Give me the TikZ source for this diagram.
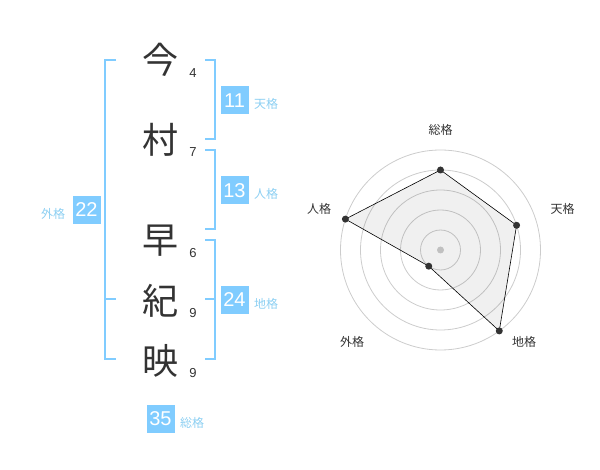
\documentclass[tikz,border=0pt]{standalone}
\usepackage{fontspec}
\setmainfont{Liberation Sans}
\newfontfamily\jp{Noto Sans CJK JP}
\usetikzlibrary{positioning, calc}
\definecolor{kakublue}{HTML}{80CCFF}
\definecolor{kakutext}{HTML}{8CCFF2}
\definecolor{ink}{HTML}{333333}
\definecolor{ring}{HTML}{CCCCCC}

\begin{document}
\begin{tikzpicture}[x=1pt, y=-1pt,
	kanji/.style={font=\jp\fontsize{36}{36}\selectfont, text=ink, inner sep=0pt},
	kaku/.style={font=\fontsize{13}{13}\selectfont, text=ink, inner sep=0pt},
	kbox/.style={fill=kakublue, text=white, font=\fontsize{20}{20}\selectfont, minimum size=28pt, inner sep=0pt},
	klabel/.style={font=\jp\fontsize{12}{12}\selectfont, text=kakutext, inner sep=0pt},
	rlabel/.style={font=\jp\fontsize{12}{12}\selectfont, text=ink, inner sep=0pt},
	brak/.style={draw=kakublue, line width=2pt},
	dot/.style={circle, fill=ink, inner sep=0pt, minimum size=7pt}]
	\useasboundingbox (0,0) rectangle (600,470);
	
	% name
	\node[kanji] (k1) at (160,60) {今};
	\node[kanji] (k2) at (160,140) {村};
	\node[kanji] (k3) at (160,241) {早};
	\node[kanji] (k4) at (160,301) {紀};
	\node[kanji] (k5) at (160,361) {映};
	\node[kaku] (s1) at (193,73) {4};
	\node[kaku] (s2) at (193,152) {7};
	\node[kaku] (s3) at (193,253) {6};
	\node[kaku] (s4) at (193,313) {9};
	\node[kaku] (s5) at (193,373) {9};
	
	% brackets
	\draw[brak] (116,60) -- (105,60) -- (105,359.5) -- (116,359.5);
	\draw[brak] (105,299.5) -- (116,299.5);
	\draw[brak] (205,60) -- (215,60) -- (215,139.5) -- (205,139.5);
	\draw[brak] (205,150) -- (215,150) -- (215,229.5) -- (205,229.5);
	\draw[brak] (205,240) -- (215,240) -- (215,359.5) -- (205,359.5);
	\draw[brak] (205,299.5) -- (215,299.5);
	
	% kaku
	\node[kbox] (ten) at (234.5,100.5) {11};
	\node[kbox] (jin) at (234.5,190.5) {13};
	\node[kbox] (chi) at (234.5,300) {24};
	\node[kbox] (gai) at (86.5,210) {22};
	\node[kbox] (sou) at (160.5,419) {35};
	\node[klabel] at (266,104) {天格};
	\node[klabel] at (266,194) {人格};
	\node[klabel] at (266,304) {地格};
	\node[klabel] at (53,214) {外格};
	\node[klabel] at (192,423) {総格};
	
	% radar
	\coordinate (o) at (440.5,250);
	\foreach \r in {20,40,60,80,100}
		\draw[ring, line width=0.8pt] (o) circle (\r);
	\fill[ring] (o) circle (3.5);
	\coordinate (p1) at ($(o)+(-90:80)$);
	\coordinate (p2) at ($(o)+(-18:80)$);
	\coordinate (p3) at ($(o)+(54:100)$);
	\coordinate (p4) at ($(o)+(126:20)$);
	\coordinate (p5) at ($(o)+(-162:100)$);
	\draw[black, line width=0.6pt, fill=black, fill opacity=0.06] (p1) -- (p2) -- (p3) -- (p4) -- (p5) -- cycle;
	\foreach \p in {p1,p2,p3,p4,p5}
		\node[dot] at (\p) {};
	\node[rlabel] (l1) at (440.5,130) {総格};
	\node[rlabel] (l2) at (562.5,208.5) {天格};
	\node[rlabel] (l3) at (524,342) {地格};
	\node[rlabel] (l4) at (352,342) {外格};
	\node[rlabel] (l5) at (319,209) {人格};
\end{tikzpicture}
\end{document}
